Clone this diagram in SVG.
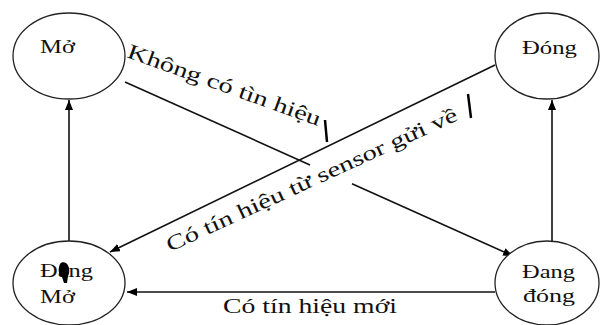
<svg xmlns="http://www.w3.org/2000/svg" width="600" height="325" viewBox="0 0 600 325">
<defs>
<marker id="ah" viewBox="0 0 10 8" refX="10" refY="4" markerWidth="10" markerHeight="8" markerUnits="userSpaceOnUse" orient="auto">
<path d="M0,0 L10,4 L0,8 Z" fill="#000"/>
</marker>
</defs>
<style>
.node{fill:#fff;stroke:#222;stroke-width:1.3}
.t{font-family:"Liberation Serif","Times New Roman",serif;font-size:19px;fill:#111}
.lbl{font-family:"Liberation Serif","Times New Roman",serif;font-size:21px;fill:#111}
.c{stroke:#111;stroke-width:1.6;fill:none}
</style>
<rect width="600" height="325" fill="#fff"/>
<g id="connectors">
<line class="c" x1="69" y1="241" x2="69" y2="100" marker-end="url(#ah)"/>
<line class="c" x1="552" y1="241" x2="552" y2="100" marker-end="url(#ah)"/>
<line class="c" x1="125" y1="82" x2="310" y2="164.9"/>
<line class="c" x1="352" y1="183.7" x2="513" y2="256" marker-end="url(#ah)"/>
<line class="c" x1="495" y1="65" x2="110" y2="252" marker-end="url(#ah)"/>
<line class="c" x1="495" y1="292" x2="127" y2="292" marker-end="url(#ah)"/>
<line stroke="#000" stroke-width="2.5" x1="325" y1="120" x2="327" y2="142"/>
<line stroke="#000" stroke-width="2.5" x1="468" y1="94" x2="471" y2="118"/>
</g>
<g id="labels">
<text class="lbl" transform="translate(126,57) rotate(19.8)" textLength="204" lengthAdjust="spacingAndGlyphs">Không có tìn hiệu</text>
<text class="lbl" transform="translate(170,252) rotate(-24.6)" textLength="318" lengthAdjust="spacingAndGlyphs">Có tín hiệu từ sensor gửi về</text>
<text class="lbl" x="223" y="313" textLength="174" lengthAdjust="spacingAndGlyphs">Có tín hiệu mới</text>
</g>
<g id="mo">
<ellipse class="node" cx="69" cy="56" rx="56" ry="43"/>
<text class="t" x="40" y="53" textLength="35" lengthAdjust="spacingAndGlyphs">Mở</text>
</g>
<g id="dong">
<ellipse class="node" cx="547" cy="56" rx="52" ry="43"/>
<text class="t" x="522" y="54" textLength="55" lengthAdjust="spacingAndGlyphs">Đóng</text>
</g>
<g id="dang-mo">
<ellipse class="node" cx="69" cy="283" rx="56" ry="42"/>
<text class="t" x="40" y="277" textLength="53" lengthAdjust="spacingAndGlyphs">Đang</text>
<text class="t" x="40" y="303" textLength="35" lengthAdjust="spacingAndGlyphs">Mở</text>
<path d="M60,264 C58,268 58,275 62,277 L64,283 L67,283 L68,276 C70,273 70,266 66,263 C64,262 61,262 60,264 Z" fill="#000"/>
</g>
<g id="dang-dong">
<ellipse class="node" cx="547" cy="283" rx="52" ry="42"/>
<text class="t" x="522" y="278" textLength="53" lengthAdjust="spacingAndGlyphs">Đang</text>
<text class="t" x="523" y="302" textLength="52" lengthAdjust="spacingAndGlyphs">đóng</text>
</g>
</svg>
